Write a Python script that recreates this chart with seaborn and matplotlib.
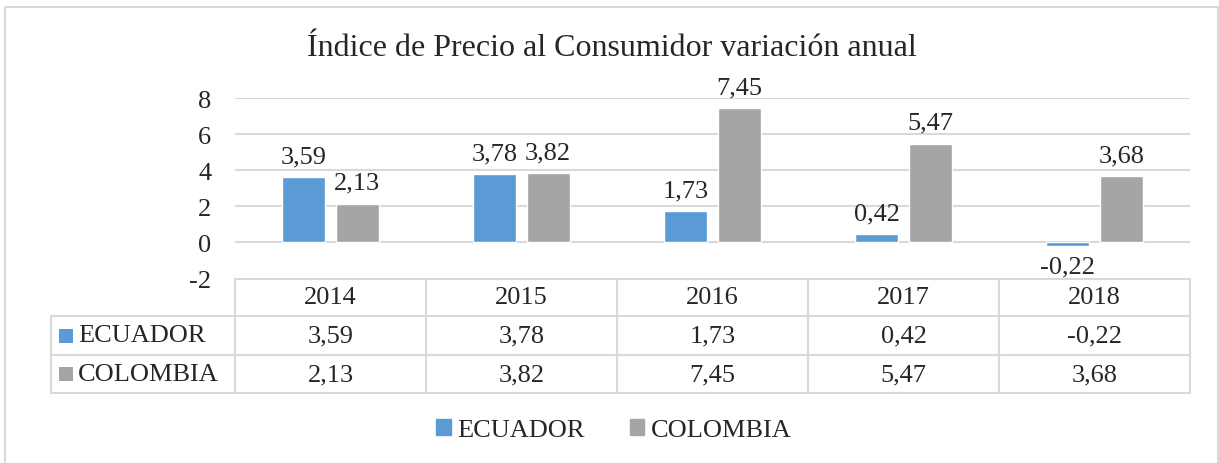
import matplotlib
matplotlib.use("Agg")
import matplotlib.pyplot as plt
from matplotlib.patches import Rectangle, Patch
import seaborn as sns
import pandas as pd

years = ["2014", "2015", "2016", "2017", "2018"]
ecuador = [3.59, 3.78, 1.73, 0.42, -0.22]
colombia = [2.13, 3.82, 7.45, 5.47, 3.68]
series_names = ["ECUADOR", "COLOMBIA"]
title = "Índice de Precio al Consumidor variación anual"

colors = {"ECUADOR": "#5B9BD5", "COLOMBIA": "#A5A5A5"}
grid_c = "#D9D9D9"

sns.set_theme(style="white")
plt.rcParams["font.family"] = ["Liberation Serif", "DejaVu Serif"]
FS = 19

df = pd.DataFrame({
    "year": years * 2,
    "value": ecuador + colombia,
    "country": [series_names[0]] * len(years) + [series_names[1]] * len(years),
})

W, H = 1219, 464
fig = plt.figure(figsize=(W / 100, H / 100), dpi=100)

# plot area in pixels
x0, x1 = 235, 1190
y_top, y_bot = 99, 279
ax = fig.add_axes([x0 / W, 1 - y_bot / H, (x1 - x0) / W, (y_bot - y_top) / H])
sns.barplot(data=df, x="year", y="value", hue="country", palette=colors,
            width=0.56, gap=0.2, legend=False, ax=ax, zorder=3, saturation=1)
ax.set_ylim(-2, 8)
ax.set_xlim(-0.5, len(years) - 0.5)
ax.set_yticks([-2, 0, 2, 4, 6, 8])
ax.set_yticklabels(["-2", "0", "2", "4", "6", "8"], fontsize=FS)
ax.tick_params(axis="y", length=0, pad=17)
ax.set_xticks([])
ax.set_xlabel("")
ax.set_ylabel("")
for s in ax.spines.values():
    s.set_visible(False)
for yv in [0, 2, 4, 6, 8]:
    ax.axhline(yv, color=grid_c, lw=1.5, zorder=1)
ax.set_facecolor("none")

for cont, vals in zip(ax.containers, [ecuador, colombia]):
    ax.bar_label(cont, labels=[f"{v:.2f}".replace(".", ",") for v in vals],
                 padding=7, fontsize=FS)

# overlay for table, border, title, legend
ov = fig.add_axes([0, 0, 1, 1], zorder=5)
ov.set_xlim(0, W)
ov.set_ylim(H, 0)
ov.axis("off")
ov.patch.set_alpha(0)

# outer border
ov.add_patch(Rectangle((5, 8), 1213, 470, fill=False, ec=grid_c, lw=1.5))

# title
ov.text(612, 49, title, ha="center", va="center", fontsize=23)

# data table
col_edges = [x0 + i * (x1 - x0) / len(years) for i in range(len(years) + 1)]
row_edges = [280, 317, 356, 394]
lab_x0 = 51
lw = 1.5
ov.plot([x0, x1], [row_edges[0], row_edges[0]], color=grid_c, lw=lw)
for r in row_edges[1:]:
    ov.plot([lab_x0, x1], [r, r], color=grid_c, lw=lw)
for c in col_edges:
    ov.plot([c, c], [row_edges[0], row_edges[-1]], color=grid_c, lw=lw)
ov.plot([lab_x0, lab_x0], [row_edges[1], row_edges[-1]], color=grid_c, lw=lw)

centers = [(col_edges[i] + col_edges[i + 1]) / 2 for i in range(len(years))]
rc = [(row_edges[i] + row_edges[i + 1]) / 2 for i in range(3)]
for cx, yr in zip(centers, years):
    ov.text(cx, rc[0], yr, ha="center", va="center", fontsize=FS)
for ri, (name, vals) in enumerate(zip(series_names, [ecuador, colombia]), start=1):
    ov.add_patch(Rectangle((59, rc[ri] - 7), 14, 14, color=colors[name], lw=0))
    ov.text(78, rc[ri], name, ha="left", va="center", fontsize=FS)
    for cx, v in zip(centers, vals):
        ov.text(cx, rc[ri], f"{v:.2f}".replace(".", ","), ha="center",
                va="center", fontsize=FS)

# legend
handles = [Patch(color=colors[n], label=n) for n in series_names]
fig.legend(handles=handles, loc="center", bbox_to_anchor=(614 / W, 1 - 431 / H),
           ncol=2, frameon=False, fontsize=FS, handlelength=0.55,
           handleheight=0.55, handletextpad=0.25, columnspacing=1.7)

fig.savefig("out.png", dpi=100, facecolor="white")
